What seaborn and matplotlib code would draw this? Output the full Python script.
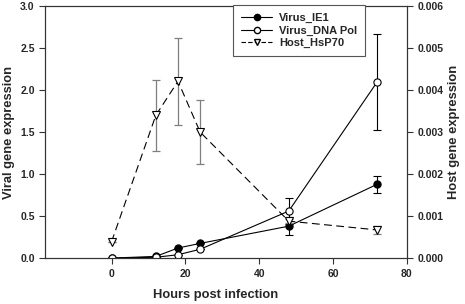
import numpy as np
import pandas as pd
import matplotlib
matplotlib.use("Agg")
import matplotlib.pyplot as plt
import seaborn as sns
from matplotlib.lines import Line2D

# data
hours = [0, 12, 18, 24, 48, 72]
ie1 = [0.0, 0.02, 0.12, 0.175, 0.38, 0.88]
ie1_err = [0.0, 0.0, 0.0, 0.0, 0.11, 0.10]
dnapol = [0.0, 0.01, 0.04, 0.105, 0.56, 2.10]
dnapol_err = [0.0, 0.0, 0.0, 0.0, 0.16, 0.57]
hsp70 = [0.00039, 0.0034, 0.00421, 0.0030, 0.00088, 0.00067]
hsp70_err = [0.0, 0.00085, 0.00104, 0.00076, 0.00005, 0.0001]

sns.set_style("ticks")
plt.rcParams['font.family'] = ['Liberation Sans', 'DejaVu Sans']
plt.rcParams['font.weight'] = 'bold'

dfv = pd.DataFrame({
    'hours': hours * 2,
    'value': ie1 + dnapol,
    'err': ie1_err + dnapol_err,
    'gene': ['Virus_IE1'] * 6 + ['Virus_DNA Pol'] * 6,
})
dfh = pd.DataFrame({'hours': hours, 'value': hsp70, 'err': hsp70_err})

fig = plt.figure(figsize=(4.65, 3.04), dpi=100)
ax = fig.add_axes([0.097, 0.151, 0.778, 0.829])
ax2 = ax.twinx()

# viral genes on left axis
for gene, face in [('Virus_IE1', 'black'), ('Virus_DNA Pol', 'white')]:
    d = dfv[dfv['gene'] == gene]
    ax.errorbar(d['hours'], d['value'], yerr=d['err'], fmt='none',
                ecolor='black', elinewidth=0.8, capsize=3, capthick=0.8, zorder=3)
    sns.lineplot(data=d, x='hours', y='value', ax=ax, color='black', lw=0.8,
                 marker='o', markersize=5.2, markerfacecolor=face,
                 markeredgecolor='black', markeredgewidth=0.8, zorder=4)

# host gene on right axis
ax2.errorbar(dfh['hours'], dfh['value'], yerr=dfh['err'], fmt='none',
             ecolor='#7f7f7f', elinewidth=0.9, capsize=3, capthick=0.9, zorder=3)
sns.lineplot(data=dfh, x='hours', y='value', ax=ax2, color='black', lw=0.8,
             linestyle=(0, (7, 4)), marker='v', markersize=5.8,
             markerfacecolor='white', markeredgecolor='black',
             markeredgewidth=0.8, zorder=4)

ax.set_xlim(-18, 80)
ax.set_ylim(0, 3.0)
ax2.set_ylim(0, 0.006)
ax.set_xticks([0, 20, 40, 60, 80])
ax.set_yticks(np.arange(0, 3.01, 0.5))
ax.set_yticklabels([f'{v:.1f}' for v in np.arange(0, 3.01, 0.5)])
ax2.set_yticks(np.arange(0, 0.00601, 0.001))
ax2.set_yticklabels([f'{v:.3f}' for v in np.arange(0, 0.00601, 0.001)])

for a in (ax, ax2):
    a.tick_params(labelsize=7.5, width=0.8, length=4, direction='out', color='#333333')
    for s in a.spines.values():
        s.set_linewidth(0.8)
        s.set_color('#333333')
    for lab in a.get_xticklabels() + a.get_yticklabels():
        lab.set_fontweight('bold')

ax.set_xlabel('Hours post infection', fontsize=9.3, fontweight='bold', va='center')
ax.set_ylabel('Viral gene expression', fontsize=9.3, fontweight='bold', va='center')
ax2.set_ylabel('Host gene expression', fontsize=9.3, fontweight='bold', va='center')
ax.xaxis.set_label_coords(0.47, -0.147)
ax.yaxis.set_label_coords(-0.100, 0.5)
ax2.yaxis.set_label_coords(1.13, 0.5)

handles = [
    Line2D([], [], color='black', lw=0.8, marker='o', markersize=4.5,
           markerfacecolor='black', markeredgecolor='black'),
    Line2D([], [], color='black', lw=0.8, marker='o', markersize=4.5,
           markerfacecolor='white', markeredgecolor='black'),
    Line2D([], [], color='black', lw=0.8, linestyle=(0, (4, 2)), marker='v',
           markersize=4.5, markerfacecolor='white', markeredgecolor='black'),
]
leg = ax2.legend(handles, ['Virus_IE1', 'Virus_DNA Pol', 'Host_HsP70'],
                 loc='upper left', bbox_to_anchor=(0.52, 1.005), borderaxespad=0,
                 fancybox=False, framealpha=1, edgecolor='#555555',
                 prop={'size': 8, 'weight': 'bold'}, handlelength=2.8,
                 labelspacing=0.25, borderpad=0.7, handletextpad=0.6)
leg.get_frame().set_linewidth(0.8)

fig.savefig('out.png', dpi=100)
